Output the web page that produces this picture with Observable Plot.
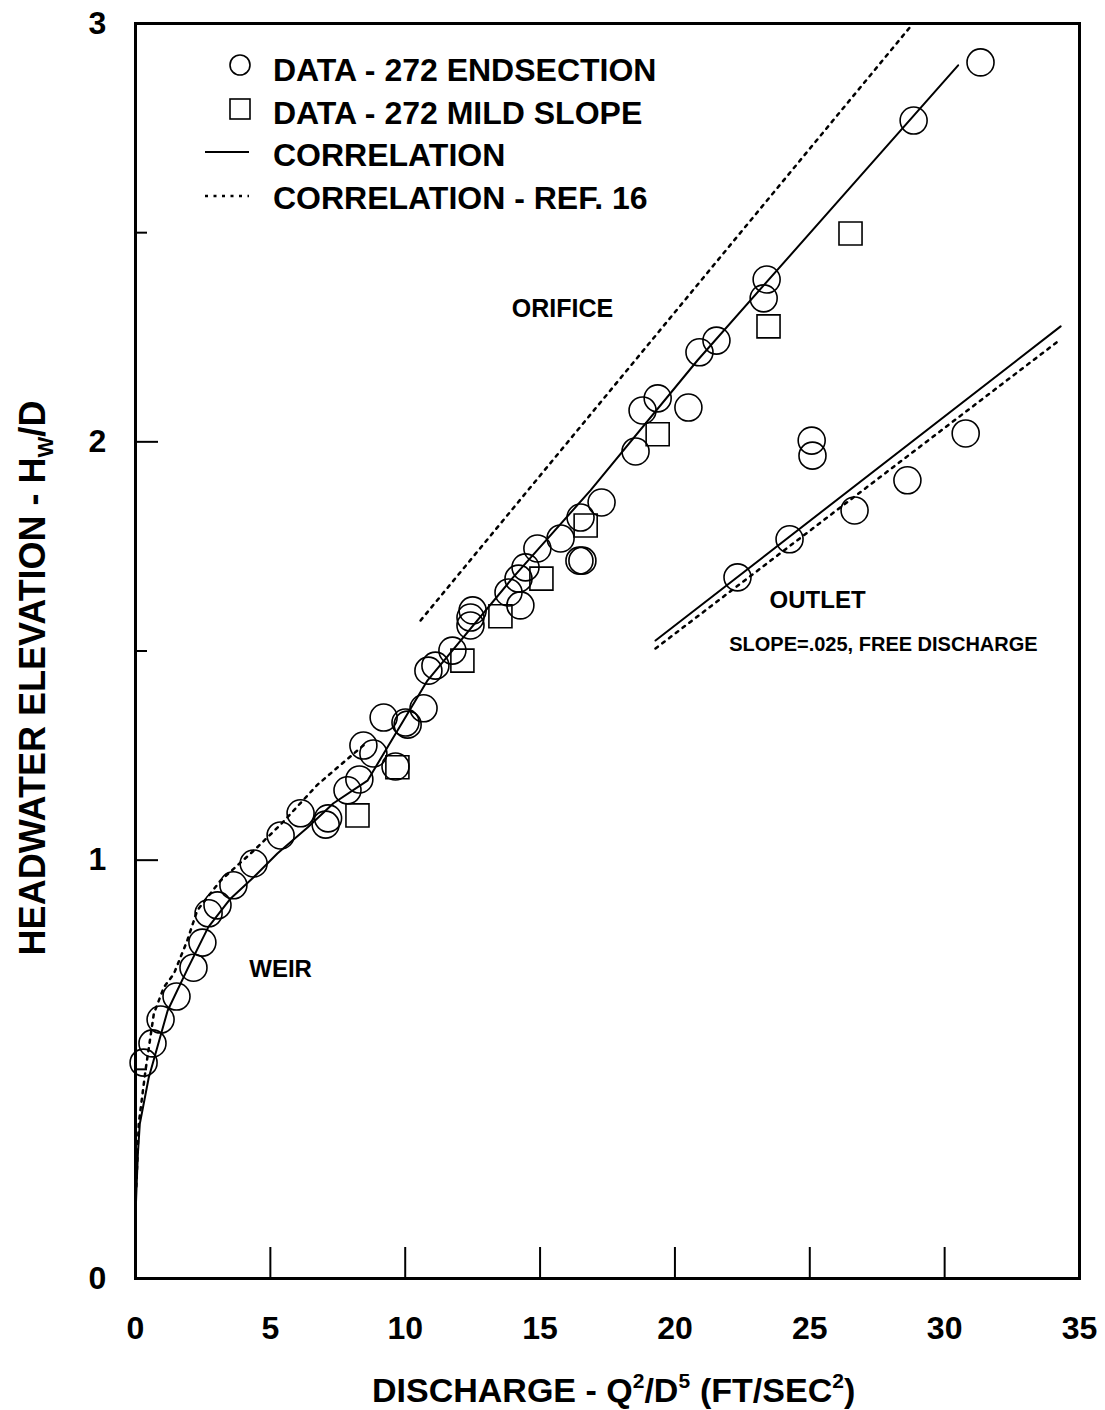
<!DOCTYPE html>
<html>
<head>
<meta charset="utf-8">
<script src="https://cdn.jsdelivr.net/npm/d3@7"></script>
<script src="https://cdn.jsdelivr.net/npm/@observablehq/plot@0.6"></script>
<style>
  body { margin: 0; background: #fff; }
  #chart svg { display: block; }
</style>
</head>
<body>
<div id="chart"></div>
<script>
// Headwater elevation vs. discharge, 272 endsection culvert tests.

// DATA - 272 ENDSECTION (circles)
const endX = [0.30, 0.63, 0.93, 1.52, 2.15, 2.48, 2.71, 3.04, 3.63, 4.38,
              5.38, 6.12, 7.05, 7.14, 7.86, 8.30, 8.45, 8.82, 9.64, 9.20,
              10.01, 10.09, 10.68, 10.86, 11.12, 11.75, 12.42, 12.50, 12.42, 13.83,
              14.27, 14.20, 14.46, 14.90, 15.76, 16.46, 16.57, 16.50, 17.28, 18.54,
              18.80, 19.36, 20.50, 20.91, 21.54, 23.29, 23.40, 25.07, 25.10, 28.85,
              31.33, 22.32, 24.25, 26.66, 28.62, 30.78];
const endY = [0.516, 0.562, 0.619, 0.674, 0.743, 0.803, 0.873, 0.892, 0.940, 0.992,
              1.059, 1.112, 1.085, 1.100, 1.167, 1.193, 1.274, 1.255, 1.224, 1.341,
              1.329, 1.324, 1.363, 1.453, 1.465, 1.501, 1.580, 1.597, 1.561, 1.640,
              1.609, 1.673, 1.700, 1.745, 1.769, 1.716, 1.716, 1.819, 1.855, 1.977,
              2.075, 2.104, 2.082, 2.214, 2.242, 2.343, 2.388, 2.003, 1.967, 2.768,
              2.907, 1.676, 1.767, 1.836, 1.908, 2.020];

// DATA - 272 MILD SLOPE (squares)
const mildX = [8.23, 9.71, 12.12, 13.53, 15.05, 16.69, 19.36, 23.47, 26.51];
const mildY = [1.107, 1.222, 1.477, 1.583, 1.673, 1.800, 2.018, 2.276, 2.498];

// CORRELATION: weir through orifice control
const corrX = [0.00, 0.04, 0.09, 0.16, 0.49, 1.19, 1.93, 2.70, 3.52, 4.38,
               5.26, 6.38, 7.34, 8.60, 10.83, 14.00, 16.87, 20.84, 30.50];
const corrY = [0.15, 0.22, 0.30, 0.37, 0.48, 0.64, 0.74, 0.84, 0.908, 0.959,
               1.016, 1.078, 1.136, 1.19, 1.43, 1.676, 1.884, 2.195, 2.90];

// CORRELATION - REF. 16: weir branch and orifice branch
const refWeirX = [0.03, 0.12, 0.37, 0.68, 1.05, 1.42, 1.92, 2.29, 3.15, 4.39, 5.38, 6.74, 8.53];
const refWeirY = [0.22, 0.37, 0.497, 0.633, 0.696, 0.728, 0.808, 0.88, 0.951, 1.023, 1.085, 1.18, 1.279];
const refOrificeX = [10.57, 28.70];
const refOrificeY = [1.573, 2.990];

// Outlet control (slope = .025, free discharge)
const outletX = [19.28, 34.30];
const outletY = [1.525, 2.276];
const outletRefX = [19.28, 34.30];
const outletRefY = [1.506, 2.245];

// Axis ticks and labels
const xLabels = [0, 5, 10, 15, 20, 25, 30, 35];
const xTicks = [5, 10, 15, 20, 25, 30];
const yLabels = [0, 1, 2, 3];
const yMajorTicks = [1, 2];
const yMinorTicks = [0.5, 1.5, 2.5];

// Region annotations
const notes = [
  {label: "ORIFICE", x: 15.83, y: 2.317, size: 25},
  {label: "WEIR", x: 5.38, y: 0.739, size: 24},
  {label: "OUTLET", x: 25.29, y: 1.621, size: 24},
  {label: "SLOPE=.025, FREE DISCHARGE", x: 27.73, y: 1.516, size: 20}
];

const rows = (xs, ys) => xs.map((x, i) => ({x, y: ys[i]}));
const endsection = rows(endX, endY);
const mild = rows(mildX, mildY);
const corr = rows(corrX, corrY);
const refWeir = rows(refWeirX, refWeirY);
const refOrifice = rows(refOrificeX, refOrificeY);
const outlet = rows(outletX, outletY);
const outletRef = rows(outletRefX, outletRefY);

const FONT = "'Liberation Sans', Arial, Helvetica, sans-serif";
const W = 1105, H = 1410;
const M = {top: 23, right: 26, bottom: 132, left: 135};
const frameW = W - M.left - M.right;
const frameH = H - M.top - M.bottom;
const dots = {stroke: "#000", strokeWidth: 2.5, strokeDasharray: "3,5.5"};

const chart = Plot.plot({
  width: W, height: H,
  marginTop: M.top, marginRight: M.right, marginBottom: M.bottom, marginLeft: M.left,
  style: {fontFamily: FONT, background: "#fff", color: "#000"},
  x: {domain: [0, 35], axis: null},
  y: {domain: [0, 3], axis: null},
  marks: [
    // inward ticks
    Plot.tickX(xTicks, {x: d => d, stroke: "#000", strokeWidth: 2, insetTop: frameH - 31}),
    Plot.tickY(yMajorTicks, {y: d => d, stroke: "#000", strokeWidth: 2, insetRight: frameW - 23}),
    Plot.tickY(yMinorTicks, {y: d => d, stroke: "#000", strokeWidth: 2, insetRight: frameW - 12}),
    // tick labels
    Plot.text(xLabels, {x: d => d, text: d => String(d), frameAnchor: "bottom", dy: 50,
      lineAnchor: "middle", fontSize: 32, fontWeight: "bold", fill: "#000"}),
    Plot.text(yLabels, {y: d => d, text: d => String(d), frameAnchor: "left", dx: -38,
      textAnchor: "middle", lineAnchor: "middle", fontSize: 32, fontWeight: "bold", fill: "#000"}),
    // correlation curves
    Plot.line(corr, {x: "x", y: "y", stroke: "#000", strokeWidth: 2}),
    Plot.line(refWeir, {x: "x", y: "y", ...dots}),
    Plot.line(refOrifice, {x: "x", y: "y", ...dots}),
    Plot.line(outlet, {x: "x", y: "y", stroke: "#000", strokeWidth: 2}),
    Plot.line(outletRef, {x: "x", y: "y", ...dots}),
    // test data
    Plot.dot(endsection, {x: "x", y: "y", r: 13.5, stroke: "#000", strokeWidth: 1.6, fill: "none"}),
    Plot.dot(mild, {x: "x", y: "y", r: 13, symbol: "square", stroke: "#000", strokeWidth: 1.6, fill: "none"}),
    // annotations
    ...notes.map(n => Plot.text([n], {x: "x", y: "y", text: "label", fontSize: n.size,
      fontWeight: "bold", fill: "#000"})),
    Plot.frame({stroke: "#000", strokeWidth: 3})
  ]
});

document.getElementById("chart").appendChild(chart);

// legend and axis titles
const svg = d3.select(chart);
const lg = svg.append("g")
  .attr("font-family", FONT).attr("font-size", 32).attr("font-weight", "bold")
  .attr("fill", "#000").attr("text-anchor", "start");
const legendRows = [
  {label: "DATA - 272 ENDSECTION", kind: "circle", cy: 65, ty: 81},
  {label: "DATA - 272 MILD SLOPE", kind: "square", cy: 109, ty: 124},
  {label: "CORRELATION", kind: "solid", cy: 152, ty: 166},
  {label: "CORRELATION - REF. 16", kind: "dotted", cy: 196, ty: 209}
];
for (const r of legendRows) {
  if (r.kind === "circle") {
    lg.append("circle").attr("cx", 240).attr("cy", r.cy).attr("r", 10)
      .attr("fill", "none").attr("stroke", "#000").attr("stroke-width", 1.6);
  } else if (r.kind === "square") {
    lg.append("rect").attr("x", 230).attr("y", r.cy - 10).attr("width", 20).attr("height", 20)
      .attr("fill", "none").attr("stroke", "#000").attr("stroke-width", 1.6);
  } else {
    const ln = lg.append("line").attr("x1", 205).attr("x2", 249).attr("y1", r.cy).attr("y2", r.cy)
      .attr("stroke", "#000").attr("stroke-width", r.kind === "solid" ? 2 : 2.5);
    if (r.kind === "dotted") ln.attr("stroke-dasharray", "3,5.5");
  }
  lg.append("text").attr("x", 273).attr("y", r.ty).text(r.label);
}

const titles = svg.append("g")
  .attr("font-family", FONT).attr("font-weight", "bold").attr("fill", "#000");
const xt = titles.append("text").attr("x", 372).attr("y", 1402)
  .attr("font-size", 34).attr("text-anchor", "start");
xt.append("tspan").text("DISCHARGE - Q");
xt.append("tspan").attr("font-size", 21).attr("dy", -14).text("2");
xt.append("tspan").attr("dy", 14).text("/D");
xt.append("tspan").attr("font-size", 21).attr("dy", -14).text("5");
const xt2 = titles.append("text").attr("x", 700).attr("y", 1402)
  .attr("font-size", 34).attr("text-anchor", "start");
xt2.append("tspan").text("(FT/SEC");
xt2.append("tspan").attr("font-size", 21).attr("dy", -14).text("2");
xt2.append("tspan").attr("dy", 14).text(")");

const yt = titles.append("text").attr("transform", "translate(45,678) rotate(-90)")
  .attr("text-anchor", "middle").attr("font-size", 36);
yt.append("tspan").text("HEADWATER ELEVATION - H");
yt.append("tspan").attr("font-size", 22).attr("dy", 8).text("W");
yt.append("tspan").attr("dy", -8).text("/D");
</script>
</body>
</html>
